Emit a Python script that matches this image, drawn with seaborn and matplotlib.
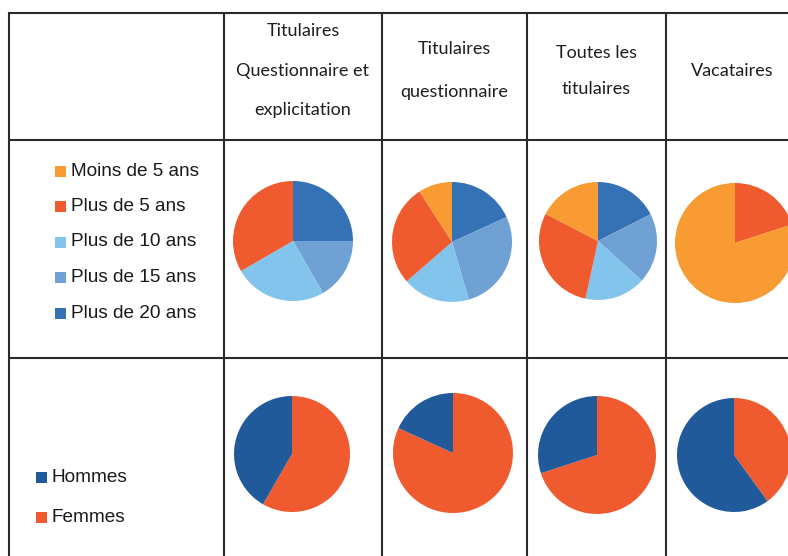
import matplotlib.pyplot as plt
import seaborn as sns
from matplotlib.patches import Rectangle

sns.set_theme(style="white")
plt.rcParams['font.family'] = ['Lato', 'DejaVu Sans']

# column headers
groups = ["Titulaires\nQuestionnaire et\nexplicitation",
          "Titulaires\nquestionnaire",
          "Toutes les\ntitulaires",
          "Vacataires"]

# seniority (anciennete) per group, same order as age_labels
age_labels = ["Moins de 5 ans", "Plus de 5 ans", "Plus de 10 ans",
              "Plus de 15 ans", "Plus de 20 ans"]
age_tit_qe = [0, 4, 3, 2, 3]
age_tit_q = [1, 3, 2, 3, 2]
age_toutes = [17.4, 29.2, 16.7, 19.2, 17.5]
age_vac = [4, 1, 0, 0, 0]

# sex per group
sex_labels = ["Hommes", "Femmes"]
hommes = [5, 2, 30, 60]
femmes = [7, 9, 70, 40]

age_colors = sns.color_palette(["#F79B32", "#F05A2F", "#82C4EC", "#6FA1D5", "#3571B5"])
sex_colors = sns.color_palette(["#215A9B", "#F05A2F"])

W, H = 788, 556
fig = plt.figure(figsize=(W / 100, H / 100), dpi=100)
ax = fig.add_axes([0, 0, 1, 1])
ax.set_xlim(0, W)
ax.set_ylim(H, 0)
ax.axis('off')

# table grid
line_kw = dict(color="#2a2a2a", lw=1.5, solid_capstyle="butt")
ax.plot([8, W], [13, 13], **line_kw)
for y in [140, 358]:
    ax.plot([8, W], [y, y], **line_kw)
for x in [9, 224, 382, 527, 666]:
    ax.plot([x, x], [13, H], **line_kw)

# headers
col_x = [303, 454.5, 596.5, 732]
col_step = [39.5, 43, 37, 0]
for name, x, step in zip(groups, col_x, col_step):
    lines = name.split("\n")
    y0 = 71 - step * (len(lines) - 1) / 2
    for i, ln in enumerate(lines):
        ax.text(x, y0 + i * step, ln, ha="center", va="center",
                fontsize=13, color="#1e1e1e")

# legends
leg_font = ["Liberation Sans", "DejaVu Sans"]
for i, (lab, c) in enumerate(zip(age_labels, age_colors)):
    y = 171 + i * 35.5
    ax.add_patch(Rectangle((55, y - 5.5), 11, 11, color=c, lw=0))
    ax.text(71, y, lab, va="center", ha="left", fontsize=13.7,
            family=leg_font, color="#1a1a1a")
for i, (lab, c) in enumerate(zip(sex_labels, sex_colors)):
    y = 477 + i * 40
    ax.add_patch(Rectangle((36, y - 5.5), 11, 11, color=c, lw=0))
    ax.text(52, y, lab, va="center", ha="left", fontsize=13.7,
            family=leg_font, color="#1a1a1a")


def draw_pie(vals, colors, cx, cy, r):
    pax = fig.add_axes([(cx - r) / W, 1 - (cy + r) / H, 2 * r / W, 2 * r / H])
    pax.pie(vals, colors=colors, startangle=90, counterclock=False,
            wedgeprops=dict(linewidth=0))
    pax.set_xlim(-1, 1)
    pax.set_ylim(-1, 1)
    pax.axis('off')


row1 = [age_tit_qe, age_tit_q, age_toutes, age_vac]
row1_pos = [(293, 241, 60), (452, 242, 60), (598, 241, 59), (735, 243, 60)]
for vals, (cx, cy, r) in zip(row1, row1_pos):
    # Excel order: last category first, clockwise from 12 o'clock
    draw_pie(vals[::-1], list(age_colors)[::-1], cx, cy, r)

row2_pos = [(292, 454, 58), (453, 453, 60), (597, 455, 59), (734, 455, 57)]
for h, f, (cx, cy, r) in zip(hommes, femmes, row2_pos):
    draw_pie([f, h], [sex_colors[1], sex_colors[0]], cx, cy, r)

fig.savefig("out.png", dpi=100)
